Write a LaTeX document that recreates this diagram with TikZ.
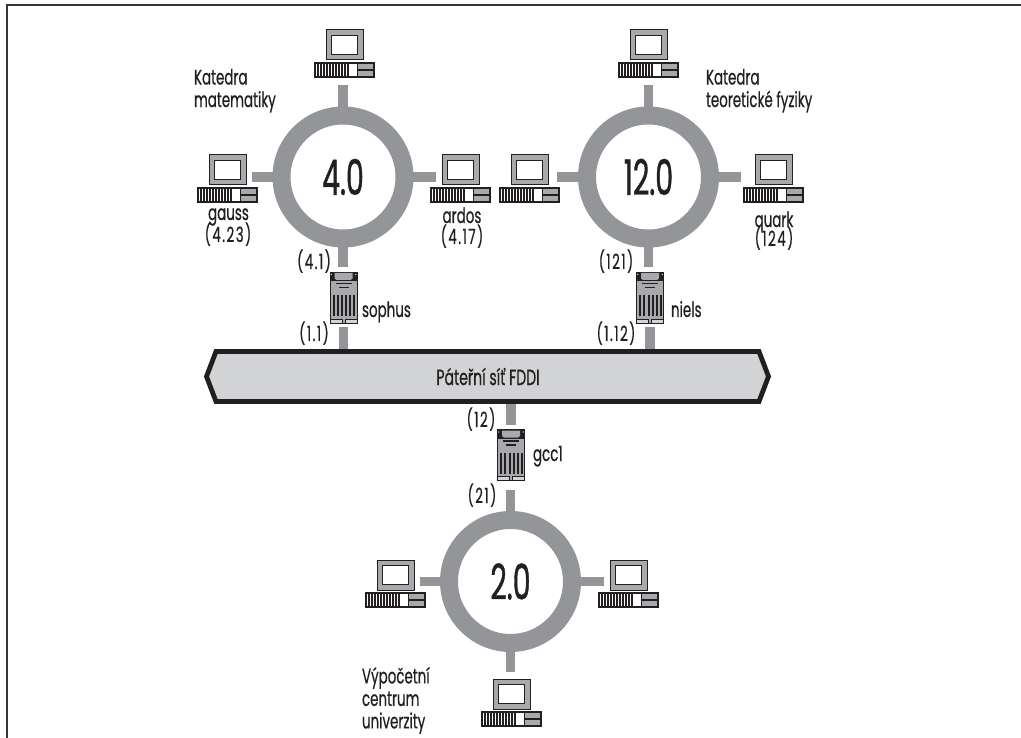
\documentclass[tikz,border=0pt]{standalone}
\usepackage{fontspec}
\setmainfont[FakeStretch=0.64,FakeBold=0.5]{Poppins}
\newfontfamily\bigfont[FakeStretch=0.58,FakeBold=0.8]{Poppins}
\newfontfamily\numfont[FakeStretch=0.64,FakeBold=0.5,LetterSpace=7]{Poppins}
\usetikzlibrary{calc}
\definecolor{ink}{HTML}{231F20}
\definecolor{netgray}{HTML}{939598}
\definecolor{lightgray}{HTML}{D1D3D4}
\definecolor{midgray}{HTML}{A7A9AC}
\tikzset{
  ringnode/.style={circle,draw=netgray,fill=white,line width=18pt,minimum size=123pt,inner sep=0pt,outer sep=0pt,text=ink,font=\bigfont\fontsize{49}{52}\selectfont},
  stub/.style={draw=netgray,line width=9.5pt},
  pcbox/.style={rectangle,minimum width=49pt,minimum height=62pt,inner sep=0pt,outer sep=0pt},
  srvbox/.style={rectangle,minimum width=27.5pt,minimum height=60pt,inner sep=0pt,outer sep=0pt},
  lab/.style={inner sep=0pt,outer sep=0pt,anchor=base,text=ink,font=\fontsize{21}{24}\selectfont},
  labn/.style={lab,font=\numfont\fontsize{21}{24}\selectfont},
  labl/.style={lab,anchor=base west},
  block/.style={inner sep=0pt,outer sep=0pt,anchor=north west,align=left,text=ink,font=\fontsize{21}{22.5}\selectfont},
  computer/.pic={
    \draw[ink,line width=1pt,fill=midgray] (-18.5,-24) rectangle (18.5,6);
    \draw[ink,line width=0.9pt,fill=white] (-13,-19) rectangle (13,0);
    \fill[ink] (-30.5,8) rectangle (30.5,24);
    \foreach \i in {0,...,10} {\fill[white] ({-28.4+\i*3},10) rectangle ({-27.1+\i*3},22);}
    \fill[white] (4.8,9.7) rectangle (12.2,22.3);
    \fill[midgray] (13.5,10) rectangle (28.5,15.4);
    \fill[midgray] (13.5,16.6) rectangle (28.5,22);
  },
  server/.pic={
    \draw[ink,line width=0.8pt,fill=midgray] (-13.6,-25.5) rectangle (13.6,25.5);
    \fill[ink] (-13.6,-25.5) rectangle (13.6,-16);
    \fill[midgray] (-9,-24.5) -- (9,-24.5) -- (9,-19) -- (7,-17.5) -- (-7,-17.5) -- (-9,-19) -- cycle;
    \fill[white] (-12.2,-23) circle (0.6);
    \fill[white] (12.2,-23) circle (0.6);
    \fill[ink] (-8,-14.6) rectangle (8,-13.4);
    \fill[ink] (-5,-10.6) rectangle (5,-9.2);
    \foreach \i in {0,...,5} {\fill[ink] ({-10.6+\i*4.05},-2.5) rectangle ({-8.6+\i*4.05},18.5);}
    \draw[ink,line width=0.6pt,fill=lightgray] (-13.6,21.5) rectangle (-1.6,25.5);
    \draw[ink,line width=0.6pt,fill=lightgray] (1.6,21.5) rectangle (13.6,25.5);
  }
}
\begin{document}
\begin{tikzpicture}[x=1pt,y=-1pt]
\useasboundingbox (0,0) rectangle (1021,738);
\fill[white] (0,0) rectangle (1021,738);
\draw[ink!90,line width=2pt] (7,738) -- (7,5.5) -- (1021,5.5);

% rings
\node[ringnode] (r4) at (343,177) {4.0};
\node[ringnode] (r12) at (648.5,177) {12.0};
\node[ringnode] (r2) at (510.5,581.5) {2.0};

% computers
\node[pcbox] (a1) at (344.5,54) {};
\node[pcbox] (a2) at (227.5,179) {};
\node[pcbox] (a3) at (460.5,179) {};
\node[pcbox] (b1) at (648.5,54) {};
\node[pcbox] (b2) at (529.5,179) {};
\node[pcbox] (b3) at (773.5,179) {};
\node[pcbox] (c1) at (395.5,584) {};
\node[pcbox] (c2) at (628.5,584) {};
\node[pcbox] (c3) at (511.5,703) {};
\foreach \n in {a1,a2,a3,b1,b2,b3,c1,c2,c3} {\pic at (\n) {computer};}

% servers
\node[srvbox] (sophus) at (343.5,297.5) {};
\node[srvbox] (niels) at (650,297.5) {};
\node[srvbox] (gcc) at (511,455) {};
\foreach \n in {sophus,niels,gcc} {\pic at (\n) {server};}

% backbone anchor
\node[rectangle,minimum width=543pt,minimum height=50pt,inner sep=0pt,outer sep=0pt] (bb) at (487.5,376.5) {};

% connectors
\draw[stub] (r4.north) -- (r4.north |- a1.south);
\draw[stub] (r4.west) -- (r4.west -| a2.east);
\draw[stub] (r4.east) -- (r4.east -| a3.west);
\draw[stub] (r4.south) -- (r4.south |- sophus.north);
\draw[stub] (sophus.south) -- (sophus.south |- bb.north);
\draw[stub] (r12.north) -- (r12.north |- b1.south);
\draw[stub,shorten >=3pt] (r12.west) -- (r12.west -| b2.east);
\draw[stub,shorten >=8pt] (r12.east) -- (r12.east -| b3.west);
\draw[stub] (r12.south) -- (r12.south |- niels.north);
\draw[stub] (niels.south) -- (niels.south |- bb.north);
\draw[stub] (gcc.north |- bb.south) -- (gcc.north);
\draw[stub,shorten >=5pt] (r2.north) -- (r2.north |- gcc.south);
\draw[stub] (r2.west) -- (r2.west -| c1.east);
\draw[stub] (r2.east) -- (r2.east -| c2.west);
\draw[stub] (r2.south) -- (r2.south |- c3.north);

% backbone
\draw[ink,line width=4.8pt,fill=lightgray,line join=miter]
  (bb.north west) -- (bb.north east) -- ($(bb.east)+(9.5,0)$) -- (bb.south east)
  -- (bb.south west) -- ($(bb.west)+(-9.5,0)$) -- cycle;
\node[lab,font=\fontsize{22}{24}\selectfont] (bbt) at (488,385) {Páteřní síť FDDI};

% labels
\node[block] (k1) at (194,69) {Katedra\\matematiky};
\node[block] (k2) at (706,69) {Katedra\\teoretické fyziky};
\node[block] (k3) at (362,667) {Výpočetní\\centrum\\univerzity};
\node[lab] (l1) at (228.5,220) {gauss};
\node[labn] (l2) at (228,242) {(4.23)};
\node[lab] (l3) at (462,223) {ardos};
\node[labn] (l4) at (462,244) {(4.17)};
\node[lab] (l5) at (774,227) {quark};
\node[labn] (l6) at (774,246) {(124)};
\node[labn] (l7) at (314,269) {(4.1)};
\node[labn] (l8) at (314,341) {(1.1)};
\node[labl] (l9) at (362,317) {sophus};
\node[labn] (l10) at (616,269) {(121)};
\node[labn] (l11) at (616,341) {(1.12)};
\node[labl] (l12) at (671,317) {niels};
\node[labn] (l13) at (481,427) {(12)};
\node[labl] (l14) at (533,461) {gcc1};
\node[labn] (l15) at (482,503) {(21)};
\end{tikzpicture}
\end{document}
